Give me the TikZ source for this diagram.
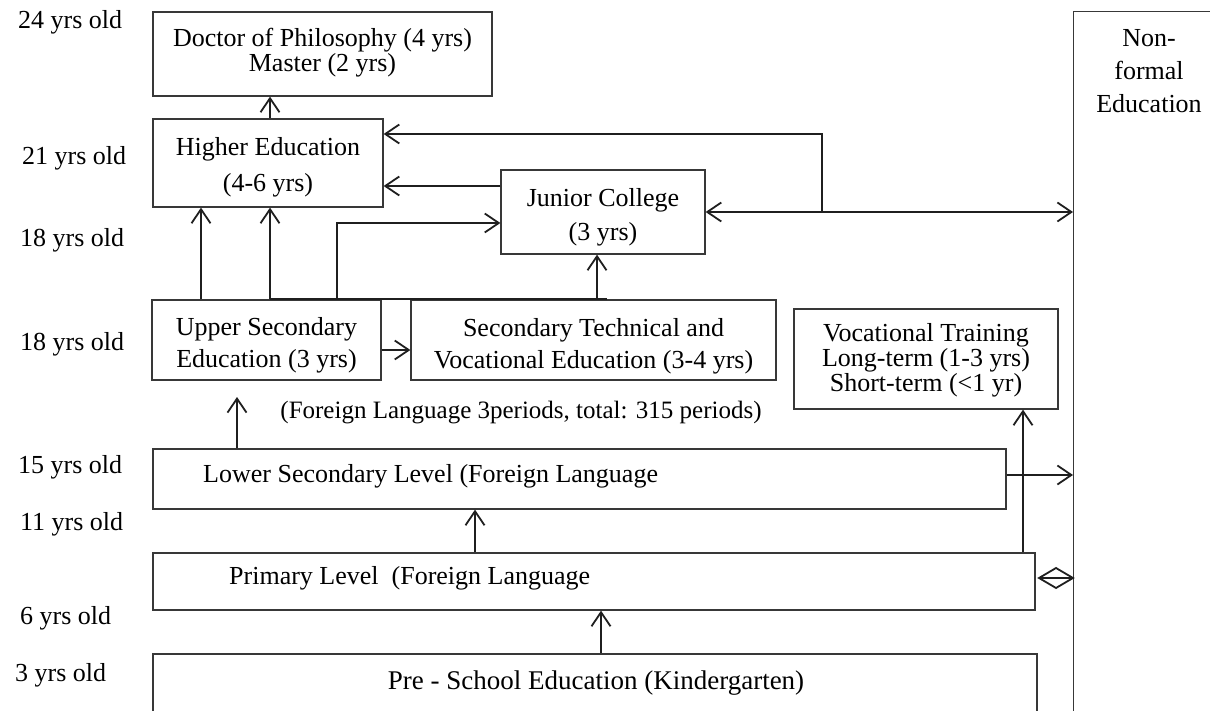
\documentclass[tikz,border=0pt]{standalone}
\usepackage{fontspec}
\setmainfont{Liberation Serif}
\usetikzlibrary{arrows.meta,calc}
\newcommand\dgfont[1]{\fontsize{26}{#1}\selectfont}
\newcommand\dgfontsz[2]{\fontsize{#1}{#2}\selectfont}
\begin{document}
\begin{tikzpicture}[x=1pt,y=-1pt,
  box/.style={draw=black!78,line width=1.3pt,inner sep=0pt},
  tip/.tip={Straight Barb[length=14pt,width=19pt]},
  conn/.style={draw=black!88,line width=1.8pt,-tip},
  dconn/.style={draw=black!88,line width=1.8pt,tip-tip},
  plain/.style={draw=black!88,line width=1.8pt},
  age/.style={anchor=west,inner sep=0pt,font=\dgfont{28}},
  txt/.style={inner sep=0pt,align=center,font=\dgfont{28}}]
\useasboundingbox (0,0) rectangle (1210,711);
\clip (0,0) rectangle (1210,711);

% boxes
\node[box,minimum width=339pt,minimum height=84pt] (doc) at (322.5,54) {};
\node[box,minimum width=230pt,minimum height=88pt] (higher) at (268,163) {};
\node[box,minimum width=204pt,minimum height=84pt] (junior) at (603,212) {};
\node[box,minimum width=229pt,minimum height=80pt] (upper) at (266.5,340) {};
\node[box,minimum width=365pt,minimum height=80pt] (sectech) at (593.5,340) {};
\node[box,minimum width=264pt,minimum height=100pt] (voc) at (926,359) {};
\node[box,minimum width=853pt,minimum height=60pt] (lower) at (579.5,479) {};
\node[box,minimum width=882pt,minimum height=57pt] (primary) at (594,581.5) {};
\node[box,minimum width=884pt,minimum height=60pt] (pre) at (595,684) {};
\node[box,anchor=north west,minimum width=200pt,minimum height=760pt] (nf) at (1073,11) {};

% texts
\node[txt,font=\dgfont{25}] (doctxt) at ($(doc)+(0,-1)$) {Doctor of Philosophy (4 yrs)\\Master (2 yrs)};
\node[txt,font=\dgfont{36}] (highertxt) at ($(higher)+(0,4)$) {Higher Education\\(4-6 yrs)};
\node[txt,font=\dgfont{34}] (juniortxt) at ($(junior)+(0,5)$) {Junior College\\(3 yrs)};
\node[txt,font=\dgfont{32}] (uppertxt) at ($(upper)+(0,5)$) {Upper Secondary\\Education (3 yrs)};
\node[txt,font=\dgfont{32}] (sectechtxt) at ($(sectech)+(0,6)$) {Secondary Technical and\\Vocational Education (3-4 yrs)};
\node[txt,font=\dgfont{25}] (voctxt) at ($(voc)+(0,1)$) {Vocational Training\\Long-term (1-3 yrs)\\Short-term (<1 yr)};
\node[txt,anchor=west] (lowertxt) at (203,476) {Lower Secondary Level (Foreign Language};
\node[txt,anchor=west] (primarytxt) at (229,578) {Primary Level\ \ (Foreign Language};
\node[txt,font=\dgfontsz{27}{30}] (pretxt) at (596,683) {Pre - School Education (Kindergarten)};
\node[txt,font=\dgfont{33}] (nftxt) at (1149,71) {Non-\\formal\\Education};
\node[txt,font=\dgfontsz{25}{28}] (fl) at (521,413) {(Foreign Language 3periods, total: 315 periods)};

% ages
\node[age] (a24) at (18,22) {24 yrs old};
\node[age] (a21) at (22,158) {21 yrs old};
\node[age] (a18a) at (20,240) {18 yrs old};
\node[age] (a18b) at (20,344) {18 yrs old};
\node[age] (a15) at (18,467) {15 yrs old};
\node[age] (a11) at (20,524) {11 yrs old};
\node[age] (a6) at (20,618) {6 yrs old};
\node[age] (a3) at (15,675) {3 yrs old};

% connectors
\draw[conn] (higher.north -| 270,0) -- (doc.south -| 270,0);
\coordinate (split) at (822,212);
\draw[dconn] (junior.east) -- (nf.west |- junior.east);
\draw[conn] (split) |- (higher.east |- 0,134);
\draw[conn] (junior.west |- 0,186) -- (higher.east |- 0,186);
\draw[conn] (upper.north -| 201,0) -- (higher.south -| 201,0);
\draw[conn] (upper.north -| 270,0) -- (higher.south -| 270,0);
\draw[plain] (upper.north -| 270,0) -- (upper.north -| 607,0);
\draw[conn] (upper.north -| 337,0) |- (junior.west |- 0,223);
\draw[conn] (upper.north -| 597,0) -- (junior.south -| 597,0);
\draw[conn] (upper.east |- 0,350) -- (sectech.west |- 0,350);
\coordinate (lowtip) at (237,397);
\draw[conn] (lower.north -| lowtip) -- (lowtip);
\draw[conn] (lower.east |- 0,475) -- (nf.west |- 0,475);
\draw[conn] (primary.north -| 475,0) -- (lower.south -| 475,0);
\draw[conn] (primary.north -| 1023,0) -- (voc.south -| 1023,0);
\draw[conn] (pre.north -| 601,0) -- (primary.south -| 601,0);
% diamond link
\coordinate (dl) at (1039,578);
\coordinate (dr) at (nf.west |- dl);
\draw[draw=black!88,line width=1.8pt,line join=miter] (dl) -- ($(dl)!0.5!(dr)+(0,-10)$) -- (dr) -- ($(dl)!0.5!(dr)+(0,10)$) -- cycle;
\draw[plain] (dl) -- (dr);
\end{tikzpicture}
\end{document}
